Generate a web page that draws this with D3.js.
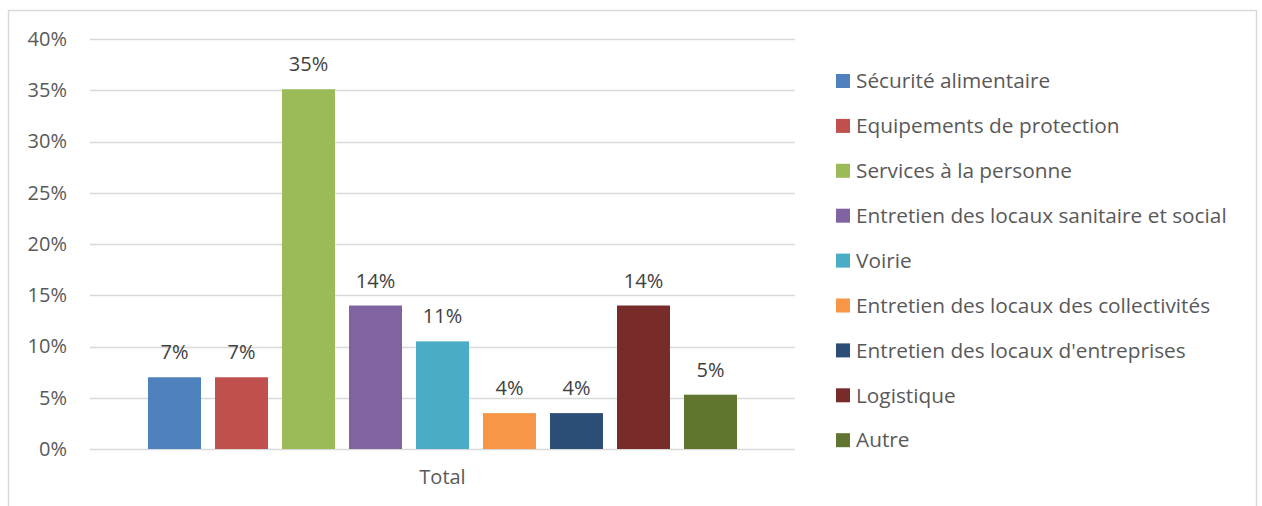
<!DOCTYPE html>
<html>
<head>
<meta charset="utf-8">
<script src="https://cdn.jsdelivr.net/npm/d3@7"></script>
<style>
  html, body { margin: 0; padding: 0; background: #fff; }
  svg { display: block; font-family: "Open Sans", "Noto Sans", sans-serif; }
</style>
</head>
<body>
<svg id="chart" width="1262" height="506"></svg>
<script>
// Share of responses by sector (percent)
const categories = ["Total"];
const seriesNames = [
  "Sécurité alimentaire",
  "Equipements de protection",
  "Services à la personne",
  "Entretien des locaux sanitaire et social",
  "Voirie",
  "Entretien des locaux des collectivités",
  "Entretien des locaux d'entreprises",
  "Logistique",
  "Autre"
];
const seriesValues = [7.0, 7.0, 35.1, 14.0, 10.5, 3.5, 3.5, 14.0, 5.3];
const seriesColors = ["#4F81BD", "#C0504D", "#9BBB59", "#8064A2", "#4BACC6",
                      "#F79646", "#2C4D75", "#772C2A", "#5F7530"];
const yTicks = [0, 5, 10, 15, 20, 25, 30, 35, 40];

const svg = d3.select("#chart");
const textColor = "#595959";
const gridColor = "#D9D9D9";

// Outer chart frame
svg.append("rect")
  .attr("x", 8.5).attr("y", 10.5)
  .attr("width", 1248).attr("height", 520)
  .attr("fill", "none").attr("stroke", gridColor).attr("stroke-width", 1.5);

const plot = { left: 90, right: 795, top: 39, bottom: 449 };

const y = d3.scaleLinear().domain([0, 40]).range([plot.bottom, plot.top]);

const x0 = d3.scaleBand().domain(categories)
  .range([plot.left, plot.right]).paddingInner(0).paddingOuter(0.0846);

const x1 = d3.scaleBand().domain(seriesNames)
  .range([0, x0.bandwidth()]).paddingInner(0.209).paddingOuter(0.1045);

// Gridlines
svg.append("g").selectAll("line").data(yTicks).join("line")
  .attr("x1", plot.left).attr("x2", plot.right)
  .attr("y1", d => Math.round(y(d)) + 0.5).attr("y2", d => Math.round(y(d)) + 0.5)
  .attr("stroke", gridColor).attr("stroke-width", 1.5);

// Y axis labels
const yAxis = d3.axisLeft(y).tickValues(yTicks).tickFormat(d => d + "%").tickSize(0).tickPadding(0);
const yg = svg.append("g").attr("transform", "translate(67,0)").call(yAxis);
yg.select(".domain").remove();
yg.selectAll("text")
  .attr("fill", textColor).attr("font-size", 20)
  .attr("font-family", "'Open Sans', sans-serif");

// X axis label
const xAxis = d3.axisBottom(x0).tickSize(0).tickPadding(0);
const xg = svg.append("g").attr("transform", `translate(0,${plot.bottom + 21})`).call(xAxis);
xg.select(".domain").remove();
xg.selectAll("text")
  .attr("fill", textColor).attr("font-size", 20)
  .attr("font-family", "'Open Sans', sans-serif");

// Bars
const rows = seriesNames.map((name, i) => ({ name, value: seriesValues[i], color: seriesColors[i], cat: categories[0] }));
const bars = svg.append("g");
bars.selectAll("rect").data(rows).join("rect")
  .attr("x", d => x0(d.cat) + x1(d.name))
  .attr("y", d => y(d.value))
  .attr("width", x1.bandwidth())
  .attr("height", d => y(0) - y(d.value))
  .attr("fill", d => d.color);

// Value labels
bars.selectAll("text").data(rows).join("text")
  .attr("x", d => x0(d.cat) + x1(d.name) + x1.bandwidth() / 2)
  .attr("y", d => y(d.value) - 18)
  .attr("text-anchor", "middle")
  .attr("fill", "#404040").attr("font-size", 20)
  .text(d => Math.round(d.value) + "%");

// Legend
const legend = svg.append("g").attr("transform", "translate(836,81)");
const items = legend.selectAll("g").data(rows).join("g")
  .attr("transform", (d, i) => `translate(0,${i * 44.9})`);
items.append("rect")
  .attr("x", 0).attr("y", -7).attr("width", 14).attr("height", 14)
  .attr("fill", d => d.color);
items.append("text")
  .attr("x", 20).attr("y", 0).attr("dy", "0.35em")
  .attr("fill", textColor).attr("font-size", 20.8)
  .text(d => d.name);
</script>
</body>
</html>
